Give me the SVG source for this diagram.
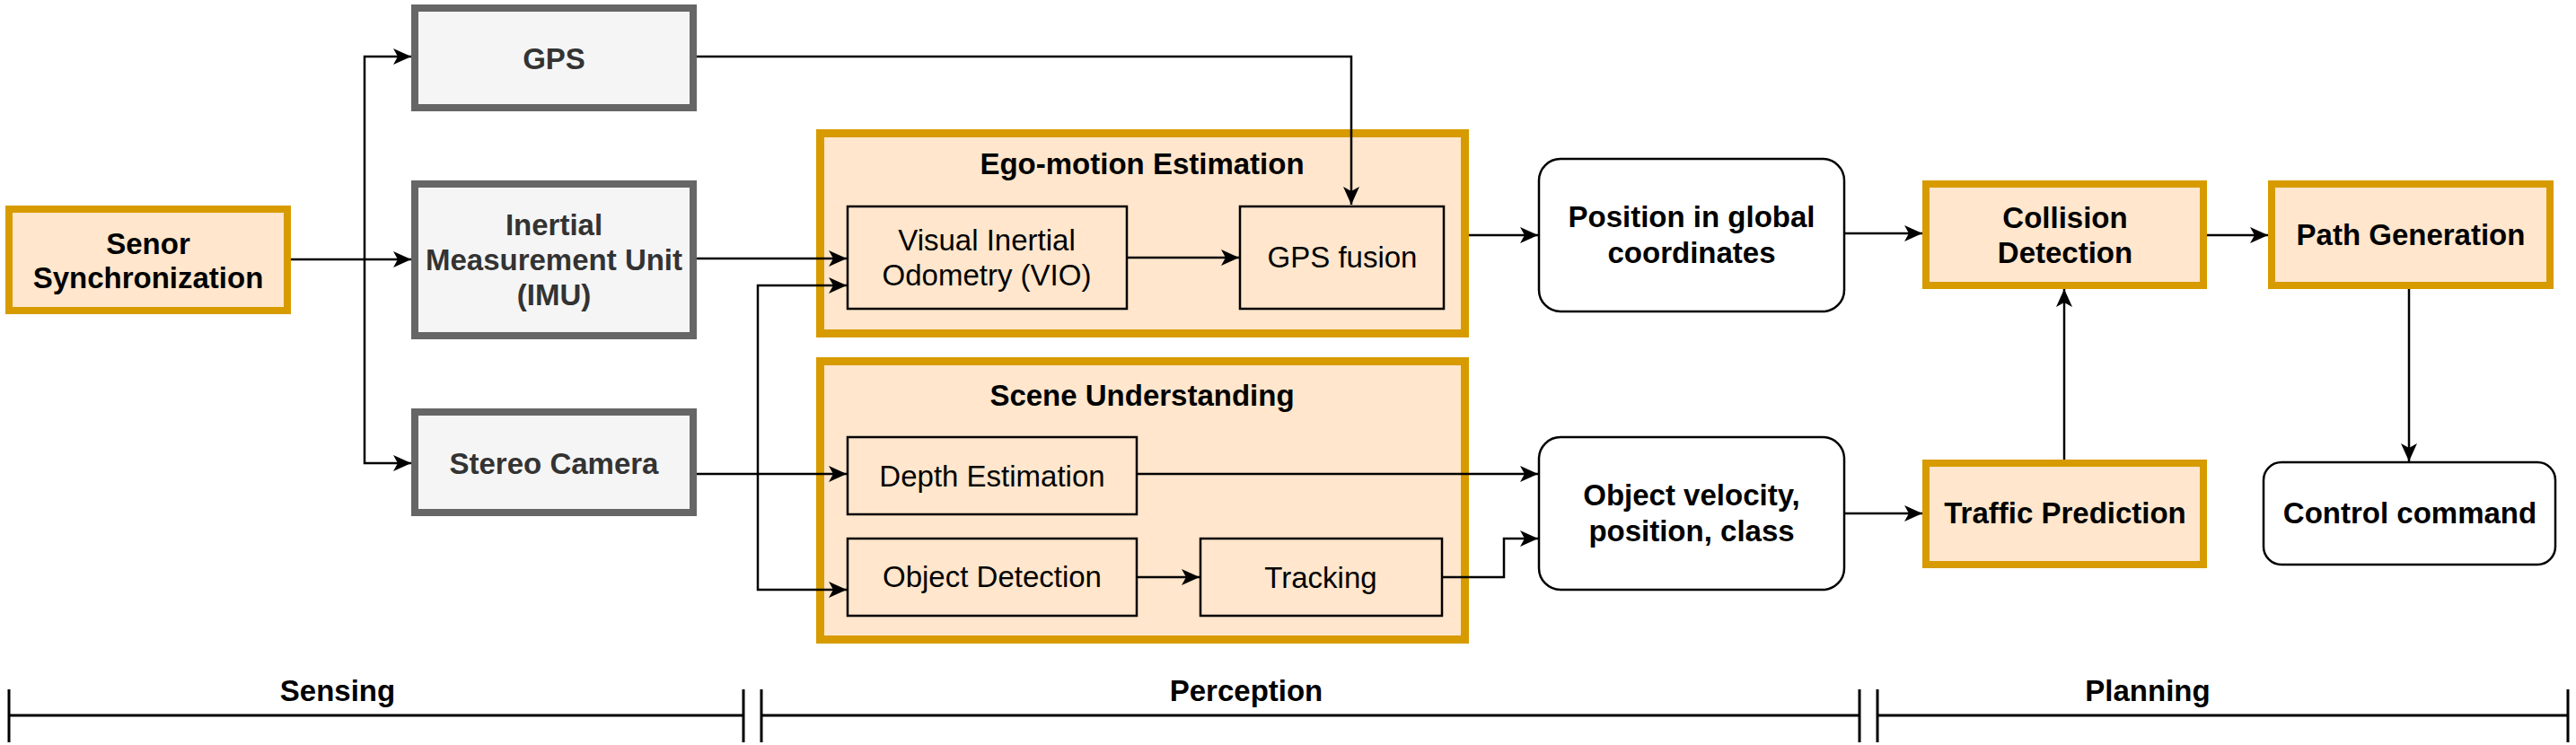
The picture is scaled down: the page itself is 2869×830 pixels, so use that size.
<svg xmlns="http://www.w3.org/2000/svg" width="2869" height="830" viewBox="0 0 2869 830">
<defs>
<marker id="arr" markerUnits="userSpaceOnUse" viewBox="0 0 20 18" refX="20" refY="9" markerWidth="20" markerHeight="18" orient="auto">
<path d="M0,0 L20,9 L0,18 L5,9 Z" fill="#000"/>
</marker>
<style>
text{font-family:"Liberation Sans",Arial,sans-serif;font-size:33px;text-anchor:middle;fill:#000}
.b{font-weight:bold}
.g{fill:#333333}
.sensor{fill:#f5f5f5;stroke:#666666;stroke-width:8}
.orange{fill:#ffe6cc;stroke:#d79b00;stroke-width:8}
.cont{fill:#ffe6cc;stroke:#d79b00;stroke-width:9}
.inner{fill:#ffe6cc;stroke:#000;stroke-width:2.5}
.round{fill:#fff;stroke:#000;stroke-width:2.5}
.c{fill:none;stroke:#000;stroke-width:2.5}
.ca{fill:none;stroke:#000;stroke-width:2.5;marker-end:url(#arr)}
.tl{fill:none;stroke:#000;stroke-width:3}
</style>
</defs>
<rect width="2869" height="830" fill="#fff"/>

<g id="sync">
<rect class="orange" x="10" y="233" width="310" height="113"/>
<text class="b" x="165" y="283">Senor</text>
<text class="b" x="165" y="321">Synchronization</text>
</g>
<g id="gps">
<rect class="sensor" x="462" y="9" width="310" height="111"/>
<text class="b g" x="617" y="77">GPS</text>
</g>
<g id="imu">
<rect class="sensor" x="462" y="205" width="310" height="169"/>
<text class="b g" x="617" y="262">Inertial</text>
<text class="b g" x="617" y="301">Measurement Unit</text>
<text class="b g" x="617" y="340">(IMU)</text>
</g>
<g id="stereo">
<rect class="sensor" x="462" y="459" width="310" height="112"/>
<text class="b g" x="617" y="528">Stereo Camera</text>
</g>

<g id="ego">
<rect class="cont" x="913.5" y="148.5" width="718" height="223"/>
<text class="b" x="1272" y="194">Ego-motion Estimation</text>
</g>
<g id="vio">
<rect class="inner" x="944" y="230" width="311" height="114"/>
<text x="1099" y="279">Visual Inertial</text>
<text x="1099" y="318">Odometry (VIO)</text>
</g>
<g id="gpsfusion">
<rect class="inner" x="1381" y="230" width="227" height="114"/>
<text x="1495" y="298">GPS fusion</text>
</g>

<g id="scene">
<rect class="cont" x="913.5" y="402.5" width="718" height="310"/>
<text class="b" x="1272" y="452">Scene Understanding</text>
</g>
<g id="depth">
<rect class="inner" x="944" y="487" width="322" height="86"/>
<text x="1105" y="542">Depth Estimation</text>
</g>
<g id="objdet">
<rect class="inner" x="944" y="600" width="322" height="86"/>
<text x="1105" y="654">Object Detection</text>
</g>
<g id="tracking">
<rect class="inner" x="1337" y="600" width="269" height="86"/>
<text x="1471" y="655">Tracking</text>
</g>

<g id="position">
<rect class="round" x="1714" y="177" width="340" height="170" rx="24" ry="24"/>
<text class="b" x="1884" y="253">Position in global</text>
<text class="b" x="1884" y="293">coordinates</text>
</g>
<g id="objvel">
<rect class="round" x="1714" y="487" width="340" height="170" rx="24" ry="24"/>
<text class="b" x="1884" y="563">Object velocity,</text>
<text class="b" x="1884" y="603">position, class</text>
</g>

<g id="collision">
<rect class="orange" x="2145" y="205" width="309" height="113"/>
<text class="b" x="2300" y="254">Collision</text>
<text class="b" x="2300" y="293">Detection</text>
</g>
<g id="traffic">
<rect class="orange" x="2145" y="516" width="309" height="113"/>
<text class="b" x="2300" y="583">Traffic Prediction</text>
</g>
<g id="path">
<rect class="orange" x="2530" y="205" width="310" height="113"/>
<text class="b" x="2685" y="273">Path Generation</text>
</g>
<g id="control">
<rect class="round" x="2521" y="515" width="325" height="114" rx="20" ry="20"/>
<text class="b" x="2684" y="583">Control command</text>
</g>

<g id="connectors">
<path class="ca" d="M324,289 L458,289"/>
<path class="ca" d="M406,289 L406,63 L458,63"/>
<path class="ca" d="M406,289 L406,516 L458,516"/>
<path class="ca" d="M776,63 L1505,63 L1505,228"/>
<path class="ca" d="M776,288 L943,288"/>
<path class="ca" d="M776,528 L943,528"/>
<path class="ca" d="M844,528 L844,318 L943,318"/>
<path class="ca" d="M844,528 L844,657 L943,657"/>
<path class="ca" d="M1255,287 L1380,287"/>
<path class="ca" d="M1636,262 L1713,262"/>
<path class="ca" d="M2054,260 L2141,260"/>
<path class="ca" d="M2458,262 L2526,262"/>
<path class="ca" d="M2683,322 L2683,514"/>
<path class="ca" d="M2299,512 L2299,322"/>
<path class="ca" d="M1266,528 L1713,528"/>
<path class="ca" d="M1266,643 L1336,643"/>
<path class="ca" d="M1606,643 L1675,643 L1675,600 L1713,600"/>
<path class="ca" d="M2054,572 L2141,572"/>
</g>

<g id="timeline">
<path class="tl" d="M10,797 L828,797 M10,768 L10,827 M828,768 L828,827"/>
<path class="tl" d="M848,797 L2071,797 M848,768 L848,827 M2071,768 L2071,827"/>
<path class="tl" d="M2091,797 L2860,797 M2091,768 L2091,827 M2860,768 L2860,827"/>
<text class="b" x="376" y="781">Sensing</text>
<text class="b" x="1388" y="781">Perception</text>
<text class="b" x="2392" y="781">Planning</text>
</g>
</svg>
